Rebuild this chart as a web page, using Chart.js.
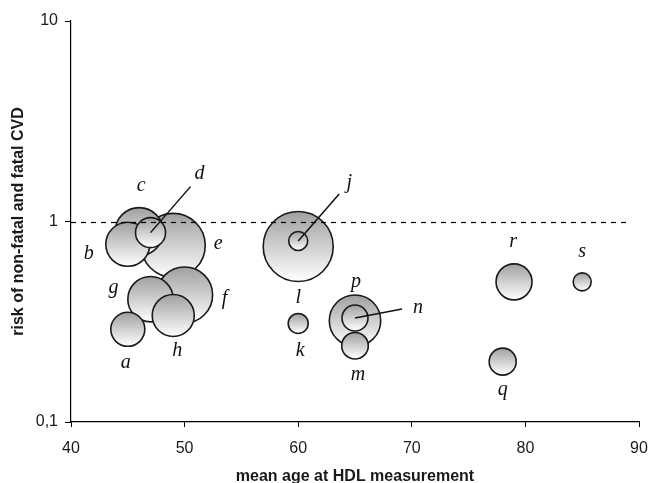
<!DOCTYPE html>
<html>
<head>
<meta charset="utf-8">
<script src="https://cdn.jsdelivr.net/npm/chart.js@4/dist/chart.umd.min.js"></script>
<style>
    html, body { margin: 0; padding: 0; background: #fff; }
    #wrap { width: 648px; height: 483px; }
</style>
</head>
<body>
<div id="wrap"><canvas id="bubbleChart"></canvas></div>
<script>
    'use strict';

    // Studies, in drawing order (later ones sit on top)
    const studies = ['e', 'f', 'g', 'h', 'c', 'b', 'd', 'a', 'l', 'j', 'k', 'p', 'n', 'm', 'q', 'r', 's'];
    const meanAge = [49, 50, 47, 49, 46, 45, 47, 45, 60, 60, 60, 65, 65, 65, 78, 79, 85];
    const risk = [0.76, 0.43, 0.41, 0.34, 0.89, 0.77, 0.88, 0.29, 0.75, 0.80, 0.31, 0.32, 0.33, 0.24, 0.20, 0.50, 0.50];
    const bubbleSize = [32, 28, 22.7, 21, 24, 22, 15, 17, 35, 9.5, 10, 25.7, 13, 13.3, 13.5, 18, 9];

    const xTicks = [40, 50, 60, 70, 80, 90];
    const yTicks = [0.1, 1, 10];
    const yTickLabels = ['0,1', '1', '10'];
    const referenceRisk = 1;

    // Where each letter sits relative to its bubble centre (px)
    const labelOffsets = {
        a: [-2, 33], b: [-39, 9], c: [2, -46], d: [49, -59], e: [45, -2],
        f: [40, 4], g: [-37, -11], h: [4, 35], j: [51, -58], k: [2, 27],
        l: [0, 51], m: [3, 29], n: [63, -10], p: [1, -39], q: [0, 28],
        r: [-1, -40], s: [0, -30]
    };
    // Leader lines: end point relative to bubble centre (px)
    const leaderEnds = { d: [40, -46], j: [41, -47], n: [47, -9] };

    let bubbles = studies.map((name, i) => ({
        x: meanAge[i],
        y: risk[i],
        r: bubbleSize[i],
        name: name
    }));

    // Vertical grey-to-white fill for each bubble
    function bubbleFill(context) {
        let raw = context.raw;
        let ys = context.chart.scales.y;
        if (!raw || !ys) {
            return '#cccccc';
        }
        let cy = ys.getPixelForValue(raw.y);
        if (!isFinite(cy)) {
            return '#cccccc';
        }
        let g = context.chart.ctx.createLinearGradient(0, cy - raw.r, 0, cy + raw.r);
        g.addColorStop(0, '#a0a0a0');
        g.addColorStop(1, '#ffffff');
        return g;
    }

    // Dashed reference line, leader lines and italic letters
    const annotations = {
        id: 'annotations',
        afterDatasetsDraw(chart) {
            let ctx = chart.ctx;
            let xs = chart.scales.x;
            let ys = chart.scales.y;
            let meta = chart.getDatasetMeta(0);

            ctx.save();
            ctx.strokeStyle = '#000';
            ctx.lineWidth = 1.2;
            ctx.setLineDash([5, 5]);
            let yRef = Math.round(ys.getPixelForValue(referenceRisk)) + 0.5;
            ctx.beginPath();
            ctx.moveTo(xs.left, yRef);
            ctx.lineTo(xs.getPixelForValue(89.2), yRef);
            ctx.stroke();
            ctx.setLineDash([]);

            ctx.lineWidth = 1.5;
            ctx.strokeStyle = '#111';
            ctx.fillStyle = '#111';
            ctx.font = 'italic 20px "Liberation Serif", "DejaVu Serif", serif';
            ctx.textAlign = 'center';
            ctx.textBaseline = 'middle';

            meta.data.forEach((pt, i) => {
                let name = studies[i];
                if (leaderEnds[name]) {
                    ctx.beginPath();
                    ctx.moveTo(pt.x, pt.y);
                    ctx.lineTo(pt.x + leaderEnds[name][0], pt.y + leaderEnds[name][1]);
                    ctx.stroke();
                }
                let off = labelOffsets[name];
                ctx.fillText(name, pt.x + off[0], pt.y + off[1]);
            });
            ctx.restore();
        }
    };

    const config = {
        type: 'bubble',
        data: {
            datasets: [{
                data: bubbles,
                backgroundColor: bubbleFill,
                borderColor: '#1a1a1a',
                borderWidth: 1.6,
                hoverRadius: 0,
                hoverBorderWidth: 1.6
            }]
        },
        options: {
            responsive: true,
            maintainAspectRatio: false,
            animation: false,
            events: [],
            layout: {
                autoPadding: false,
                padding: { top: 21, right: 9, left: 0, bottom: 0 }
            },
            plugins: {
                legend: { display: false },
                tooltip: { enabled: false }
            },
            scales: {
                x: {
                    type: 'linear',
                    min: 40,
                    max: 90,
                    afterBuildTicks: function (scale) {
                        scale.ticks = xTicks.map(v => ({ value: v }));
                    },
                    afterFit: function (scale) {
                        scale.height = 61;
                        scale.paddingLeft = 0;
                        scale.paddingRight = 0;
                    },
                    grid: {
                        display: true,
                        drawOnChartArea: false,
                        drawTicks: true,
                        tickLength: 5,
                        color: '#000'
                    },
                    border: { display: true, color: '#000', width: 1.2 },
                    ticks: {
                        color: '#1a1a1a',
                        padding: 12,
                        maxRotation: 0,
                        font: { family: '"Liberation Sans", Arial, sans-serif', size: 16 }
                    },
                    title: {
                        display: true,
                        text: 'mean age at HDL measurement',
                        color: '#1a1a1a',
                        padding: { top: 4, bottom: -3 },
                        font: { family: '"Liberation Sans", Arial, sans-serif', size: 16, weight: 'bold' }
                    }
                },
                y: {
                    type: 'logarithmic',
                    min: 0.1,
                    max: 10,
                    afterBuildTicks: function (scale) {
                        scale.ticks = yTicks.map(v => ({ value: v }));
                    },
                    afterFit: function (scale) {
                        scale.width = 71;
                        scale.paddingTop = 0;
                        scale.paddingBottom = 0;
                    },
                    grid: {
                        display: true,
                        drawOnChartArea: false,
                        drawTicks: true,
                        tickLength: 6,
                        color: '#000'
                    },
                    border: { display: true, color: '#000', width: 1.2 },
                    ticks: {
                        color: '#1a1a1a',
                        padding: 7,
                        callback: function (value) {
                            let idx = yTicks.indexOf(value);
                            return idx >= 0 ? yTickLabels[idx] : '';
                        },
                        font: { family: '"Liberation Sans", Arial, sans-serif', size: 16 }
                    },
                    title: {
                        display: true,
                        text: 'risk of non-fatal and fatal CVD',
                        color: '#1a1a1a',
                        padding: { top: 9, bottom: 0 },
                        font: { family: '"Liberation Sans", Arial, sans-serif', size: 16, weight: 'bold' }
                    }
                }
            }
        },
        plugins: [annotations]
    };

    new Chart(document.getElementById('bubbleChart'), config);
</script>
</body>
</html>
